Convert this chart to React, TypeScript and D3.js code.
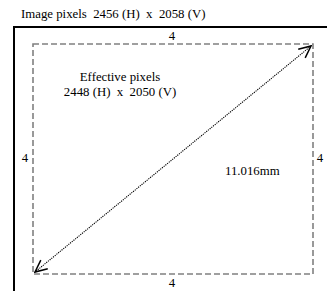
import React from "react";
import * as d3 from "d3";

const imagePixels = [2456, 2058];
const effectivePixels = [2448, 2050];
const borderLabels = ["4", "4", "4", "4"];
const diagonalLabel = "11.016mm";
const titleText = "Image pixels  2456 (H)  x  2058 (V)";
const effectiveLines = ["Effective pixels", "2448 (H)  x  2050 (V)"];

export default function App() {
  const W = 327, H = 291;
  const x = d3.scaleLinear().domain([0, effectivePixels[0]]).range([33, 313]);
  const y = d3.scaleLinear().domain([0, effectivePixels[1]]).range([44, 274]);
  const font = "'Liberation Serif', 'Times New Roman', serif";
  const fs = 12.8;
  const line = d3.line<[number, number]>().x(d => d[0]).y(d => d[1]);
  const diag = line([[x(effectivePixels[0]) - 2, y(0) + 2], [x(0) + 2, y(effectivePixels[1]) - 2]]);
  return (
    <svg width={W} height={H} style={{ position: "absolute", left: 0, top: 0, background: "#fff" }}>
      <defs>
        <marker id="ah" viewBox="0 0 14 14" refX="13" refY="7" markerWidth="14" markerHeight="14" markerUnits="userSpaceOnUse" orient="auto-start-reverse">
          <path d="M1,1.5 L13,7 L1,12.5" fill="none" stroke="#000" strokeWidth={1.5} />
        </marker>
      </defs>
      <text x={21} y={18} fontFamily={font} fontSize={fs} fill="#000" style={{ whiteSpace: "pre" }}>{titleText}</text>
      <path d={`M14,${H + 5} L14,27 L${W + 5},27`} fill="none" stroke="#000" strokeWidth={2} />
      <rect x={x(0)} y={y(0)} width={x(effectivePixels[0]) - x(0)} height={y(effectivePixels[1]) - y(0)} fill="none" stroke="#808080" strokeWidth={1.6} strokeDasharray="6,3" />
      <path d={diag ?? ""} fill="none" stroke="#000" strokeWidth={1.1} strokeDasharray="1.2,1" markerStart="url(#ah)" markerEnd="url(#ah)" />
      <text x={172} y={40} textAnchor="middle" fontFamily={font} fontSize={fs}>{borderLabels[0]}</text>
      <text x={172} y={287} textAnchor="middle" fontFamily={font} fontSize={fs}>{borderLabels[1]}</text>
      <text x={25} y={162} textAnchor="middle" fontFamily={font} fontSize={fs}>{borderLabels[2]}</text>
      <text x={320} y={162} textAnchor="middle" fontFamily={font} fontSize={fs}>{borderLabels[3]}</text>
      <text x={120} y={81} textAnchor="middle" fontFamily={font} fontSize={fs} style={{ whiteSpace: "pre" }}>{effectiveLines[0]}</text>
      <text x={120} y={96} textAnchor="middle" fontFamily={font} fontSize={fs} style={{ whiteSpace: "pre" }}>{effectiveLines[1]}</text>
      <text x={225} y={175} fontFamily={font} fontSize={fs}>{diagonalLabel}</text>
    </svg>
  );
}
